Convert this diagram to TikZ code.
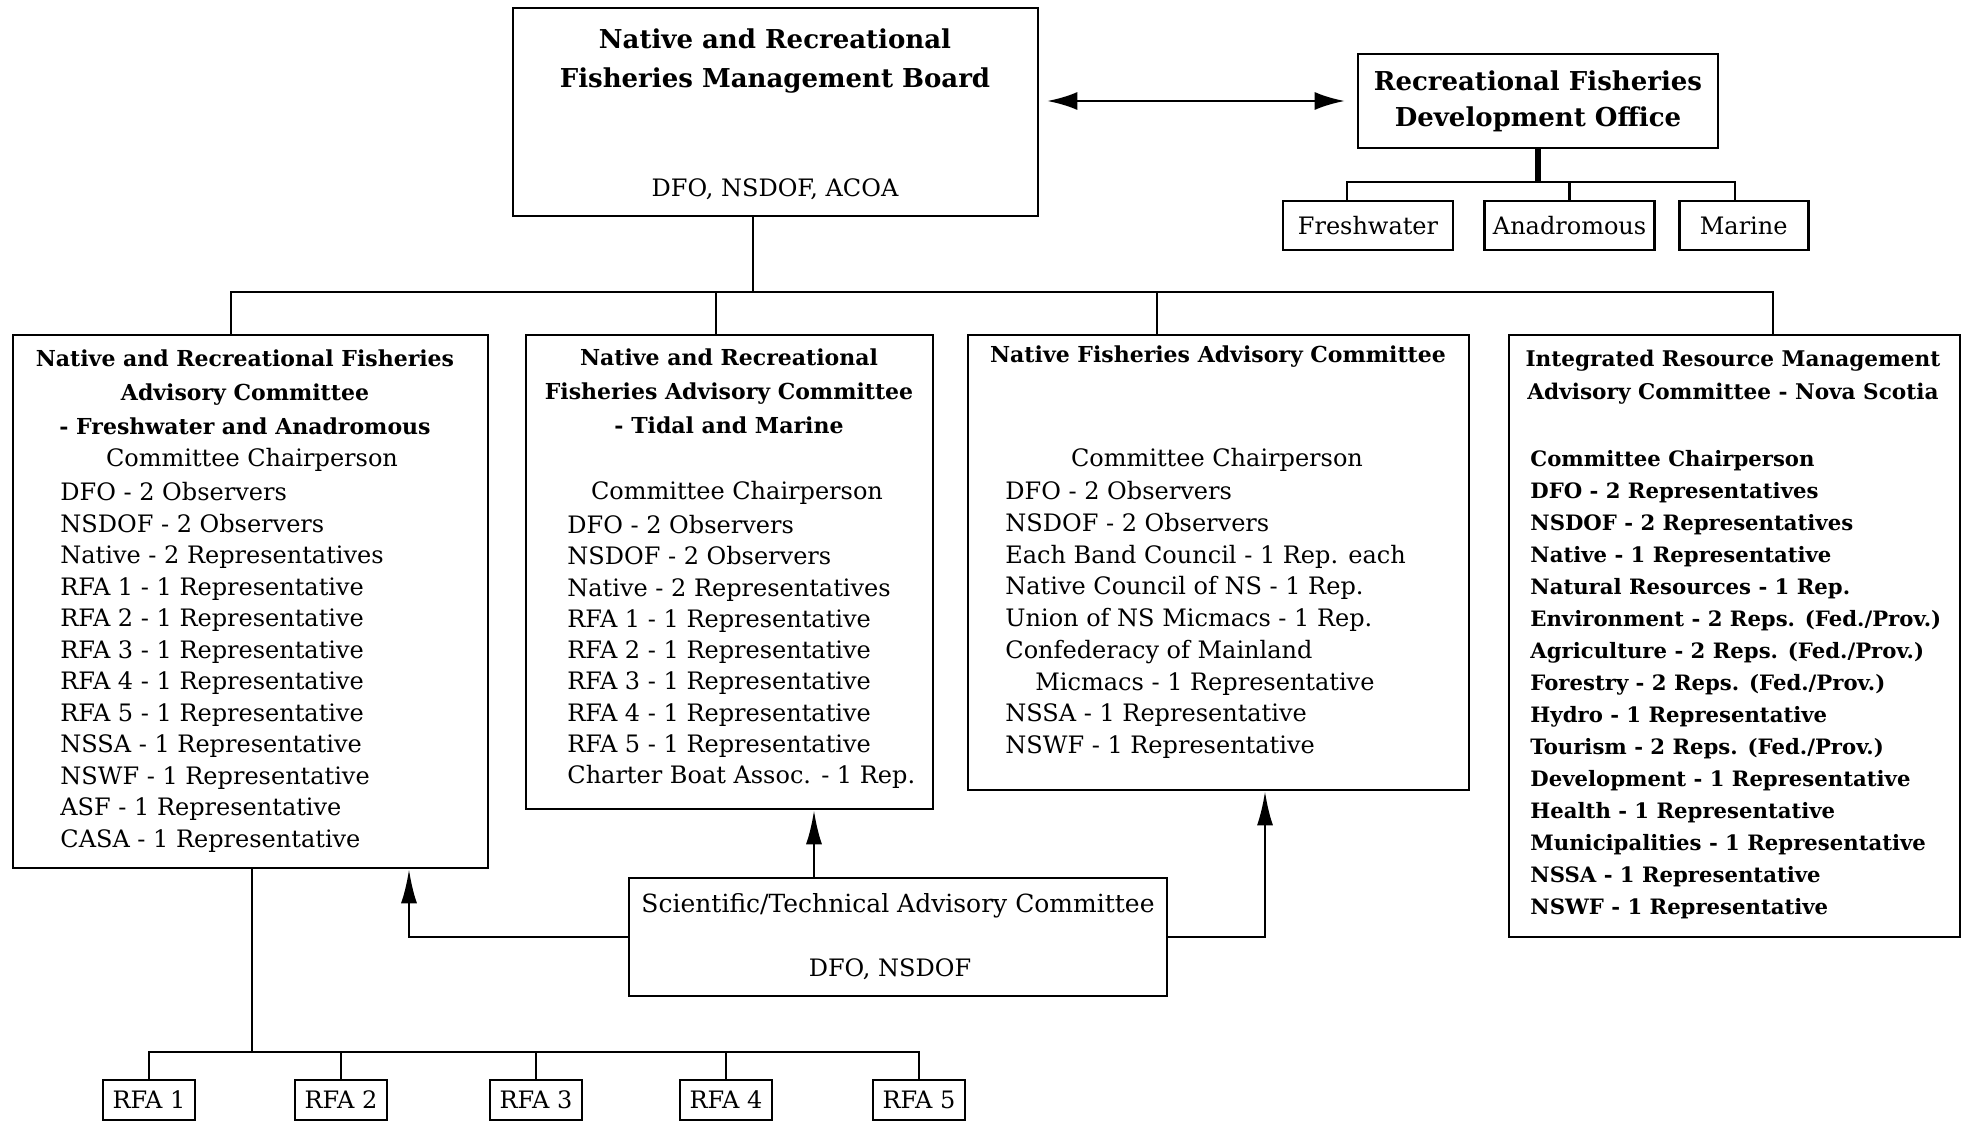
\documentclass[tikz,border=0pt]{standalone}
\usepackage{fontspec}
\setmainfont{DejaVu Serif}
\usetikzlibrary{arrows.meta,fit,positioning}

\begin{document}
\begin{tikzpicture}[x=0.5pt, y=-0.5pt,
		boxframe/.style={draw, line width=1.3pt, inner sep=0pt},
		subbox/.style={draw, line width=1.3pt, inner sep=0pt, minimum height=24.5pt, font=\fontsize{12pt}{14pt}\selectfont},
		headtext/.style={font=\bfseries\fontsize{11pt}{17pt}\selectfont, align=center, inner sep=0pt},
		itemtext/.style={font=\fontsize{12pt}{14pt}\selectfont, anchor=west, inner sep=0pt, text height=9pt, text depth=2.5pt},
		bolditem/.style={itemtext, font=\bfseries\fontsize{10.6pt}{13pt}\selectfont},
		wire/.style={line width=1.3pt},
		uparrow/.style={wire, -{Latex[length=17pt,width=8pt]}}
		]
	\useasboundingbox (0,0) rectangle (1972,1123);

	\node[boxframe, fit={(513,8) (1038,216)}](board){};
	\node[font=\bfseries\fontsize{13pt}{19.5pt}\selectfont, align=center](boardname) at (775,61){Native and Recreational\\Fisheries Management Board};
	\node[itemtext, anchor=center](boardmembers) at (775,190){DFO, NSDOF, ACOA};

	\node[boxframe, fit={(1358,54) (1718,148)}](office){};
	\node[font=\bfseries\fontsize{13pt}{18pt}\selectfont, align=center](officename) at (office.center){Recreational Fisheries\\Development Office};
	\draw[wire, {Latex[length=15pt,width=9pt]}-{Latex[length=15pt,width=9pt]}, shorten <=4pt, shorten >=6pt] (board.east |- office.west) -- (office.west);

	\node[subbox, minimum width=85pt](fresh) at (1368,225.5){Freshwater};
	\node[subbox, minimum width=85pt, right=14.5pt of fresh](anad){Anadromous};
	\node[subbox, minimum width=64.5pt, right=11pt of anad](marine){Marine};
	\coordinate (obus) at (1538,182);
	\draw[line width=3pt] (office.south) -- (obus);
	\draw[wire] (1347,0 |- fresh.north) |- (obus) -| (1735,0 |- marine.north);
	\draw[wire] (anad.north) -- (anad.north |- obus);

	\node[boxframe, fit={(13,335) (488,868)}](fwc){};
	\node[boxframe, fit={(526,335) (933,809)}](tmc){};
	\node[boxframe, fit={(968,335) (1469,790)}](nfc){};
	\node[boxframe, fit={(1509,335) (1960,937)}](irm){};
	\node[boxframe, fit={(629,878) (1167,996)}](stac){};

	\coordinate (bus) at (753,292);
	\draw[wire] (bus |- board.south) -- (bus);
	\draw[wire] (231,0 |- fwc.north) |- (bus) -| (1773,0 |- irm.north);
	\draw[wire] (716,0 |- tmc.north) -- (716,0 |- bus);
	\draw[wire] (1157,0 |- nfc.north) -- (1157,0 |- bus);

	\node[headtext](fwchead) at (245,392){Native and Recreational Fisheries\\Advisory Committee\\- Freshwater and Anadromous};
	\node[itemtext, anchor=center](fwcchair) at (252,460){Committee Chairperson};
	\foreach \t [count=\i from 0] in {DFO - 2 Observers, NSDOF - 2 Observers, Native - 2 Representatives,
		RFA 1 - 1 Representative, RFA 2 - 1 Representative, RFA 3 - 1 Representative,
		RFA 4 - 1 Representative, RFA 5 - 1 Representative, NSSA - 1 Representative,
		NSWF - 1 Representative, ASF - 1 Representative, CASA - 1 Representative}
		\node[itemtext](fwc\i) at (60,494+31.5*\i){\t};

	\node[headtext](tmchead) at (729,391){Native and Recreational\\Fisheries Advisory Committee\\- Tidal and Marine};
	\node[itemtext, anchor=center](tmcchair) at (737,493){Committee Chairperson};
	\foreach \t [count=\i from 0] in {DFO - 2 Observers, NSDOF - 2 Observers, Native - 2 Representatives,
		RFA 1 - 1 Representative, RFA 2 - 1 Representative, RFA 3 - 1 Representative,
		RFA 4 - 1 Representative, RFA 5 - 1 Representative, Charter Boat Assoc. - 1 Rep.}
		\node[itemtext](tmc\i) at (567,527+31.25*\i){\t};

	\node[headtext](nfchead) at (1218,357){Native Fisheries Advisory Committee};
	\node[itemtext, anchor=center](nfcchair) at (1217,460){Committee Chairperson};
	\foreach \t [count=\i from 0] in {DFO - 2 Observers, NSDOF - 2 Observers, Each Band Council - 1 Rep. each,
		Native Council of NS - 1 Rep., Union of NS Micmacs - 1 Rep., Confederacy of Mainland,
		{\hspace*{15pt}Micmacs - 1 Representative}, NSSA - 1 Representative, NSWF - 1 Representative}
		\node[itemtext](nfc\i) at (1005,493+31.75*\i){\t};

	\node[headtext, font=\bfseries\fontsize{10.8pt}{16.5pt}\selectfont](irmhead) at (1733,377){Integrated Resource Management\\Advisory Committee - Nova Scotia};
	\foreach \t [count=\i from 0] in {Committee Chairperson, DFO - 2 Representatives, NSDOF - 2 Representatives,
		Native - 1 Representative, Natural Resources - 1 Rep., Environment - 2 Reps. (Fed./Prov.),
		Agriculture - 2 Reps. (Fed./Prov.), Forestry - 2 Reps. (Fed./Prov.), Hydro - 1 Representative,
		Tourism - 2 Reps. (Fed./Prov.), Development - 1 Representative, Health - 1 Representative,
		Municipalities - 1 Representative, NSSA - 1 Representative, NSWF - 1 Representative}
		\node[bolditem](irm\i) at (1530,460+32*\i){\t};

	\node[font=\fontsize{12.5pt}{15pt}\selectfont](stacname) at (898,906){Scientific/Technical Advisory Committee};
	\node[itemtext, anchor=center](stacmembers) at (890,970){DFO, NSDOF};
	\draw[uparrow] (stac.west) -| (409,0 |- fwc.south);
	\draw[uparrow] (814,0 |- stac.north) -- (814,0 |- tmc.south);
	\draw[uparrow] (stac.east) -| (1265,0 |- nfc.south);

	\foreach \i/\x in {1/149, 2/341, 3/536, 4/726, 5/919}
		\node[subbox, minimum width=46pt, minimum height=20pt](rfa\i) at (\x,1100){RFA \i};
	\coordinate (rbus) at (252,1052);
	\draw[wire] (rbus |- fwc.south) -- (rbus);
	\draw[wire] (rfa1.north) |- (rbus) -| (rfa5.north);
	\foreach \i in {2,3,4}
		\draw[wire] (rfa\i.north) -- (rfa\i.north |- rbus);
\end{tikzpicture}
\end{document}
